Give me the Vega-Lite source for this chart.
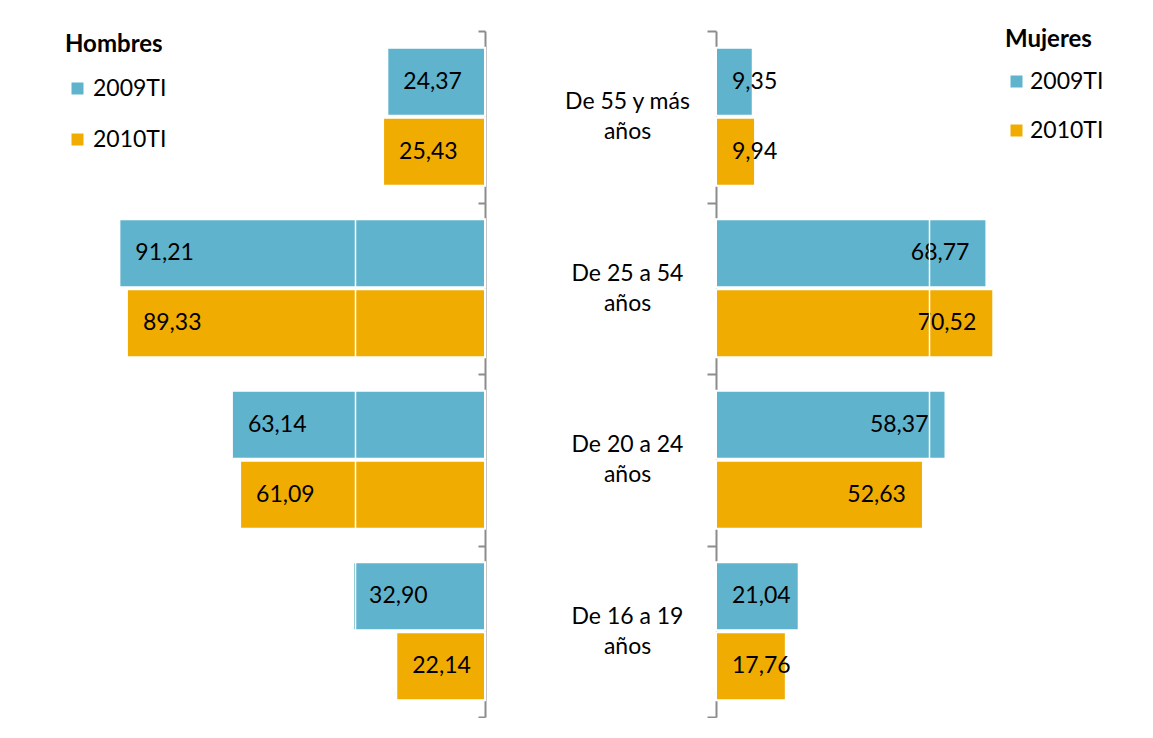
{
  "$schema": "https://vega.github.io/schema/vega-lite/v6.json",
  "padding": {"left": 20, "top": 20, "right": 0, "bottom": 0},
  "background": "white",
  "config": {
    "font": "Lato",
    "view": {"stroke": null},
    "locale": {"number": {"decimal": ",", "thousands": ".", "grouping": [3], "currency": ["", " €"]}}
  },
  "data": {
    "values": [
      {"sexo": "Hombres", "grupo": "De 55 y más años", "periodo": "2009TI", "valor": 24.37},
      {"sexo": "Hombres", "grupo": "De 55 y más años", "periodo": "2010TI", "valor": 25.43},
      {"sexo": "Hombres", "grupo": "De 25 a 54 años", "periodo": "2009TI", "valor": 91.21},
      {"sexo": "Hombres", "grupo": "De 25 a 54 años", "periodo": "2010TI", "valor": 89.33},
      {"sexo": "Hombres", "grupo": "De 20 a 24 años", "periodo": "2009TI", "valor": 63.14},
      {"sexo": "Hombres", "grupo": "De 20 a 24 años", "periodo": "2010TI", "valor": 61.09},
      {"sexo": "Hombres", "grupo": "De 16 a 19 años", "periodo": "2009TI", "valor": 32.90},
      {"sexo": "Hombres", "grupo": "De 16 a 19 años", "periodo": "2010TI", "valor": 22.14},
      {"sexo": "Mujeres", "grupo": "De 55 y más años", "periodo": "2009TI", "valor": 9.35},
      {"sexo": "Mujeres", "grupo": "De 55 y más años", "periodo": "2010TI", "valor": 9.94},
      {"sexo": "Mujeres", "grupo": "De 25 a 54 años", "periodo": "2009TI", "valor": 68.77},
      {"sexo": "Mujeres", "grupo": "De 25 a 54 años", "periodo": "2010TI", "valor": 70.52},
      {"sexo": "Mujeres", "grupo": "De 20 a 24 años", "periodo": "2009TI", "valor": 58.37},
      {"sexo": "Mujeres", "grupo": "De 20 a 24 años", "periodo": "2010TI", "valor": 52.63},
      {"sexo": "Mujeres", "grupo": "De 16 a 19 años", "periodo": "2009TI", "valor": 21.04},
      {"sexo": "Mujeres", "grupo": "De 16 a 19 años", "periodo": "2010TI", "valor": 17.76}
    ]
  },
  "bounds": "flush",
  "spacing": 231,
  "resolve": {"scale": {"x": "independent"}, "legend": {"color": "independent"}},
  "hconcat": [
    {
      "width": 465,
      "height": 686,
      "transform": [{"filter": "datum.sexo == 'Hombres'"}],
      "encoding": {
        "y": {
          "field": "grupo", "type": "nominal",
          "sort": ["De 55 y más años", "De 25 a 54 años", "De 20 a 24 años", "De 16 a 19 años"],
          "scale": {"paddingInner": 0, "paddingOuter": 0},
          "axis": {"orient": "right", "title": null, "labels": false, "tickBand": "extent", "tickSize": -7,
                   "domainColor": "#8c8c8c", "tickColor": "#8c8c8c", "domainWidth": 2, "tickWidth": 2}
        },
        "yOffset": {"field": "periodo", "type": "nominal", "scale": {"paddingInner": 0.03, "paddingOuter": 0.24}}
      },
      "layer": [
        {
          "mark": {"type": "bar", "stroke": "white", "strokeWidth": 2},
          "encoding": {
            "x": {"field": "valor", "type": "quantitative",
                  "scale": {"domain": [0, 116], "reverse": true, "nice": false, "zero": true},
                  "axis": {"values": [32.4], "grid": true, "gridColor": "white", "gridWidth": 1.5, "zindex": 1,
                           "domain": false, "ticks": false, "labels": false, "title": null}},
            "color": {"field": "periodo", "type": "nominal",
                      "scale": {"domain": ["2009TI", "2010TI"], "range": ["#60B3CC", "#F0AC00"]},
                      "legend": {"title": "Hombres", "orient": "none", "legendX": 45, "legendY": 2,
                                 "titleFontSize": 24, "titleFontWeight": "bold", "titleColor": "black", "titlePadding": 20,
                                 "labelFontSize": 23, "labelColor": "black", "labelOffset": 4,
                                 "symbolType": "square", "symbolSize": 144, "symbolStrokeWidth": 0, "symbolOffset": 1,
                                 "rowPadding": 27}}
          }
        },
        {
          "mark": {"type": "text", "align": "left", "baseline": "middle", "dx": 16, "fontSize": 23, "color": "black"},
          "encoding": {
            "x": {"field": "valor", "type": "quantitative"},
            "text": {"field": "valor", "type": "quantitative", "format": ".2f"}
          }
        }
      ]
    },
    {
      "width": 405,
      "height": 686,
      "transform": [{"filter": "datum.sexo == 'Mujeres'"}],
      "encoding": {
        "y": {
          "field": "grupo", "type": "nominal",
          "sort": ["De 55 y más años", "De 25 a 54 años", "De 20 a 24 años", "De 16 a 19 años"],
          "scale": {"paddingInner": 0, "paddingOuter": 0},
          "axis": {"orient": "left", "title": null, "tickBand": "extent", "tickSize": 9,
                   "domainColor": "#8c8c8c", "tickColor": "#8c8c8c", "domainWidth": 2, "tickWidth": 2,
                   "labelExpr": "datum.label ? [replace(datum.label, ' años', ''), 'años'] : ''",
                   "labelAlign": "center", "labelBaseline": "middle", "labelPadding": 80, "labelOffset": -15,
                   "labelFontSize": 23, "labelColor": "black", "labelLineHeight": 30}
        },
        "yOffset": {"field": "periodo", "type": "nominal", "scale": {"paddingInner": 0.03, "paddingOuter": 0.24}}
      },
      "layer": [
        {
          "mark": {"type": "bar", "stroke": "white", "strokeWidth": 2},
          "encoding": {
            "x": {"field": "valor", "type": "quantitative",
                  "scale": {"domain": [0, 103], "nice": false, "zero": true},
                  "axis": {"values": [54.2], "grid": true, "gridColor": "white", "gridWidth": 1.5, "zindex": 1,
                           "domain": false, "ticks": false, "labels": false, "title": null}},
            "color": {"field": "periodo", "type": "nominal",
                      "scale": {"domain": ["2009TI", "2010TI"], "range": ["#60B3CC", "#F0AC00"]},
                      "legend": {"title": "Mujeres", "orient": "none", "legendX": 289, "legendY": -3,
                                 "titleFontSize": 24, "titleFontWeight": "bold", "titleColor": "black", "titlePadding": 18,
                                 "labelFontSize": 23, "labelColor": "black", "labelOffset": 2,
                                 "symbolType": "square", "symbolSize": 144, "symbolStrokeWidth": 0, "symbolOffset": 0,
                                 "rowPadding": 25}}
          }
        },
        {
          "transform": [{"filter": "datum.valor >= 25"}],
          "mark": {"type": "text", "align": "right", "baseline": "middle", "dx": -17, "fontSize": 23, "color": "black"},
          "encoding": {
            "x": {"field": "valor", "type": "quantitative"},
            "text": {"field": "valor", "type": "quantitative", "format": ".2f"}
          }
        },
        {
          "transform": [{"filter": "datum.valor < 25"}],
          "mark": {"type": "text", "align": "left", "baseline": "middle", "dx": 16, "fontSize": 23, "color": "black"},
          "encoding": {
            "x": {"datum": 0, "type": "quantitative"},
            "text": {"field": "valor", "type": "quantitative", "format": ".2f"}
          }
        }
      ]
    }
  ]
}
